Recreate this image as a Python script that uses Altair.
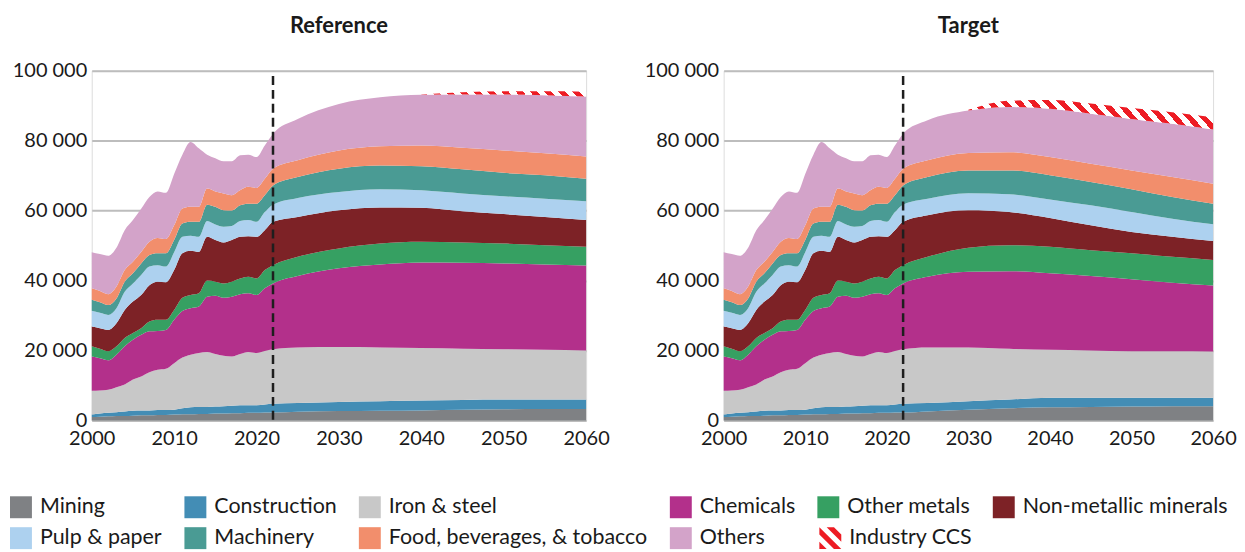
import altair as alt
import pandas as pd

# ---------------- data (values in thousands) ----------------
years_hist = list(range(2000, 2023))
years_proj = [2025, 2030, 2035, 2040, 2045, 2050, 2055, 2060]

sectors = ["Mining", "Construction", "Iron & steel", "Chemicals", "Other metals",
           "Non-metallic minerals", "Pulp & paper", "Machinery",
           "Food, beverages, & tobacco", "Others"]
ccs_name = "Industry CCS"

sector_colors = ["#7f8184", "#438db5", "#c8c8c8", "#b3308b", "#36a062",
                 "#7d2226", "#add1ef", "#4a9b94", "#f28e6c", "#d3a3c9"]
ccs_color = "#ed1c24"

hist = {
    "Mining": [1.0, 1.1, 1.2, 1.3, 1.3, 1.4, 1.5, 1.5, 1.6, 1.6, 1.7, 1.8, 1.8, 1.9, 1.9, 2.0, 2.0, 2.1, 2.1, 2.2, 2.2, 2.3, 2.3],
    "Construction": [0.7, 0.9, 1.0, 1.1, 1.3, 1.4, 1.4, 1.4, 1.4, 1.4, 1.4, 1.7, 2.0, 2.0, 2.0, 2.0, 2.1, 2.1, 2.3, 2.2, 2.2, 2.3, 2.5],
    "Iron & steel": [6.8, 6.6, 6.6, 7.1, 7.7, 8.9, 9.7, 10.9, 11.5, 11.8, 13.3, 14.5, 15.0, 15.4, 15.7, 15.0, 14.4, 14.1, 14.6, 15.2, 14.9, 15.3, 15.6],
    "Chemicals": [9.8, 9.2, 8.4, 9.3, 10.9, 11.4, 11.9, 11.7, 11.1, 11.1, 12.4, 13.3, 13.3, 13.3, 15.8, 16.7, 16.6, 17.1, 17.1, 16.8, 16.6, 17.9, 18.8],
    "Other metals": [2.9, 2.7, 2.6, 2.4, 2.4, 1.9, 1.9, 2.8, 3.2, 2.9, 2.8, 3.8, 3.8, 3.8, 4.6, 4.0, 4.1, 4.3, 4.5, 4.7, 4.7, 5.2, 5.2],
    "Non-metallic minerals": [5.7, 5.9, 6.1, 6.6, 8.0, 9.0, 9.5, 10.4, 10.9, 10.7, 11.4, 12.7, 12.6, 11.8, 12.5, 11.9, 11.7, 11.9, 11.9, 11.6, 11.9, 11.4, 12.4],
    "Pulp & paper": [4.5, 4.4, 4.3, 4.3, 5.2, 5.2, 5.7, 5.3, 4.7, 4.5, 5.1, 4.7, 4.3, 4.3, 4.5, 4.4, 4.5, 4.0, 4.5, 4.6, 4.3, 5.2, 4.9],
    "Machinery": [3.1, 3.0, 2.8, 2.8, 2.9, 2.9, 3.3, 3.3, 3.4, 3.8, 3.5, 3.8, 4.0, 4.3, 4.7, 5.1, 4.7, 4.4, 4.5, 4.7, 5.2, 4.8, 5.5],
    "Food, beverages, & tobacco": [3.3, 3.2, 3.1, 3.4, 3.3, 3.3, 3.3, 3.8, 4.4, 4.1, 4.2, 4.3, 4.3, 4.3, 4.6, 4.4, 4.8, 4.4, 4.3, 4.8, 4.5, 4.7, 4.8],
    "Others": [10.3, 10.6, 11.0, 11.1, 11.4, 11.9, 12.3, 12.8, 13.3, 13.2, 14.7, 15.4, 18.5, 16.7, 9.7, 9.5, 9.2, 9.7, 10.0, 9.2, 8.8, 9.5, 10.0],
}

ref_proj = {
    "Mining": [2.5, 2.7, 2.8, 2.9, 3.1, 3.2, 3.3, 3.3],
    "Construction": [2.5, 2.6, 2.7, 2.8, 2.8, 2.8, 2.7, 2.7],
    "Iron & steel": [15.9, 15.7, 15.4, 15.0, 14.6, 14.4, 14.2, 14.0],
    "Chemicals": [20.4, 22.5, 23.7, 24.5, 24.6, 24.5, 24.4, 24.3],
    "Other metals": [5.5, 5.7, 6.0, 5.9, 5.8, 5.7, 5.5, 5.4],
    "Non-metallic minerals": [11.4, 10.9, 10.3, 9.7, 8.9, 8.4, 8.1, 7.6],
    "Pulp & paper": [5.4, 5.2, 5.2, 5.0, 5.1, 5.1, 5.2, 5.4],
    "Machinery": [6.0, 6.7, 6.8, 6.9, 6.9, 6.7, 6.7, 6.4],
    "Food, beverages, & tobacco": [4.8, 5.2, 5.5, 5.9, 6.2, 6.4, 6.3, 6.4],
    "Others": [11.8, 13.3, 14.0, 14.5, 15.2, 16.0, 16.6, 17.1],
}
ref_ccs_years = [2040, 2045, 2050, 2055, 2060]
ref_ccs = [0.1, 0.6, 0.9, 1.1, 1.4]

tgt_proj = {
    "Mining": [2.6, 3.1, 3.5, 3.8, 3.9, 4.0, 4.1, 4.1],
    "Construction": [2.4, 2.4, 2.5, 2.7, 2.6, 2.5, 2.4, 2.4],
    "Iron & steel": [15.9, 15.4, 14.5, 13.7, 13.5, 13.3, 13.3, 13.2],
    "Chemicals": [20.2, 21.6, 22.2, 21.9, 21.3, 20.6, 19.6, 18.9],
    "Other metals": [5.7, 6.9, 7.4, 7.6, 7.4, 7.4, 7.4, 7.3],
    "Non-metallic minerals": [11.9, 10.7, 9.5, 8.2, 7.1, 6.1, 5.7, 5.4],
    "Pulp & paper": [4.7, 4.9, 5.1, 5.3, 5.7, 5.7, 5.2, 4.8],
    "Machinery": [6.2, 6.5, 6.8, 6.9, 6.7, 6.5, 6.2, 5.9],
    "Food, beverages, & tobacco": [4.8, 5.0, 5.2, 5.2, 5.2, 5.4, 5.7, 5.7],
    "Others": [11.4, 12.1, 12.9, 13.8, 14.3, 14.7, 15.2, 15.5],
}
tgt_ccs_years = [2030, 2035, 2040, 2045, 2050, 2055, 2060]
tgt_ccs = [0.2, 1.8, 2.5, 2.9, 3.1, 3.3, 3.5]

base_year = 2022
x_ticks = [2000, 2010, 2020, 2030, 2040, 2050, 2060]
y_ticks = [0, 20, 40, 60, 80, 100]
x_domain = [2000, 2060]
y_domain = [0, 100]

# ---------------- style ----------------
FONT = "Lato"
PLOT_H = 351
LEFT_W = 496
RIGHT_W = 491
STRIPE_PERIOD = 14.5


def hatch(w, h, m=0.9, period=STRIPE_PERIOD):
    """Diagonal red/white stripes as a linear gradient in bounding-box units."""
    k = (w + m * h) / (w ** 2 + (m * h) ** 2)
    n = max(1, round((w + m * h) / period))
    stops = []
    for i in range(n):
        a, b, c = i / n, (i + 0.5) / n, (i + 1) / n
        stops += [{"offset": a, "color": ccs_color}, {"offset": b, "color": ccs_color},
                  {"offset": b, "color": "#ffffff"}, {"offset": c, "color": "#ffffff"}]
    return {"gradient": "linear", "x1": 0, "y1": 1, "x2": k * w, "y2": 1 - k * m * h,
            "stops": stops}


def clip_poly(poly, a, b, c):
    """Keep the part of poly where a*x + b*y <= c."""
    out = []
    for i in range(len(poly)):
        p, q = poly[i], poly[(i + 1) % len(poly)]
        fp, fq = a * p[0] + b * p[1] - c, a * q[0] + b * q[1] - c
        if fp <= 0:
            out.append(p)
        if fp * fq < 0:
            t = fp / (fp - fq)
            out.append((p[0] + t * (q[0] - p[0]), p[1] + t * (q[1] - p[1])))
    return out


def stripe_symbol(n=3):
    """SVG path (in the -1..1 box) of diagonal stripes for the legend."""
    period = 4.0 / n
    parts = []
    for i in range(n):
        lo, hi = -2 + i * period, -2 + i * period + period / 2
        sq = [(-1, -1), (1, -1), (1, 1), (-1, 1)]
        poly = clip_poly(sq, 1, -1, hi)      # x - y <= hi
        poly = clip_poly(poly, -1, 1, -lo)   # x - y >= lo
        if len(poly) >= 3:
            parts.append("M" + "L".join("%.3f,%.3f" % pt for pt in poly) + "Z")
    return "".join(parts)


legend_common = dict(
    title=None, orient="none", direction="horizontal", symbolSize=484,
    symbolStrokeWidth=0, symbolOpacity=1, labelFontSize=21.5, labelFont=FONT,
    labelColor="#1a1a1a", labelLimit=400, labelOffset=8, padding=0,
)
color_legend = alt.Legend(legendX=-82, legendY=427, columns=6, symbolType="square",
                          columnPadding=22, rowPadding=9, **legend_common)
ccs_legend = alt.Legend(legendX=730, legendY=458, symbolFillColor=ccs_color,
                        **legend_common)

x_axis = alt.Axis(values=x_ticks, format="d", grid=False, domain=False, ticks=False,
                  labelFontSize=20, labelPadding=8, labelFlush=False, title=None,
                  labelFont=FONT, labelColor="#1a1a1a")
y_axis = alt.Axis(values=y_ticks, grid=True, gridColor="#bdbdbd", gridWidth=2,
                  domain=False, ticks=False, labelFontSize=20, labelPadding=5,
                  title=None, labelFont=FONT, labelColor="#1a1a1a",
                  labelExpr="replace(format(datum.value * 1000, ','), ',', ' ')")


def panel(title, proj, ccs_years, ccs_vals, width):
    rows = []
    for i, s in enumerate(sectors):
        for yr, v in zip(years_hist + years_proj, hist[s] + proj[s]):
            rows.append({"year": yr, "sector": s, "value": v, "order": i})
    for yr, v in zip(ccs_years, ccs_vals):
        rows.append({"year": yr, "sector": ccs_name, "value": v, "order": len(sectors)})
    df = pd.DataFrame(rows)

    # bounding box of the CCS band in pixels (sets the stripe angle)
    totals = df[df.sector != ccs_name].groupby("year")["value"].sum()
    bottoms = [totals[yr] for yr in ccs_years]
    tops = [b + c for b, c in zip(bottoms, ccs_vals)]
    sx = width / (x_domain[1] - x_domain[0])
    sy = PLOT_H / (y_domain[1] - y_domain[0])
    bw = (ccs_years[-1] - ccs_years[0]) * sx
    bh = (max(tops) - min(bottoms)) * sy

    base = alt.Chart(df)
    areas = base.transform_filter(alt.datum.sector != ccs_name).mark_area(
        interpolate="monotone").encode(
        x=alt.X("year:Q", scale=alt.Scale(domain=x_domain, nice=False), axis=x_axis),
        y=alt.Y("value:Q", stack="zero", scale=alt.Scale(domain=y_domain, nice=False),
                axis=y_axis),
        color=alt.Color("sector:N", scale=alt.Scale(domain=sectors, range=sector_colors),
                        legend=color_legend),
        order=alt.Order("order:Q", sort="ascending"),
    )
    stacked = base.transform_stack(
        stack="value", groupby=["year"], as_=["y0", "y1"],
        sort=[alt.SortField("order", order="ascending")],
    ).transform_filter(alt.datum.sector == ccs_name)
    ccs = stacked.mark_area(interpolate="monotone", fill=hatch(bw, bh)).encode(
        x=alt.X("year:Q"), y=alt.Y("y1:Q"), y2=alt.Y2("y0:Q"))
    ccs_key = stacked.mark_point(filled=True, opacity=0, color=ccs_color).encode(
        x=alt.X("year:Q"), y=alt.Y("y1:Q"),
        shape=alt.Shape("sector:N", scale=alt.Scale(domain=[ccs_name],
                                                    range=[stripe_symbol(3)]),
                        legend=ccs_legend))

    rule_df = pd.DataFrame({"year": [base_year], "top": [98.5], "bottom": [0]})
    rule = alt.Chart(rule_df).mark_rule(strokeDash=[9, 5], strokeWidth=2.5,
                                        color="#1e1e1e").encode(
        x="year:Q", y="top:Q", y2="bottom:Q")

    return alt.layer(areas, ccs, ccs_key, rule).properties(
        width=width, height=PLOT_H,
        title=alt.TitleParams(title, fontSize=22, fontWeight="bold", font=FONT,
                              color="#1a1a1a", anchor="middle", offset=23))


left = panel("Reference", ref_proj, ref_ccs_years, ref_ccs, LEFT_W)
right = panel("Target", tgt_proj, tgt_ccs_years, tgt_ccs, RIGHT_W)

chart = alt.hconcat(left, right, spacing=33).properties(
    padding={"left": 2, "top": 5, "right": 0, "bottom": 0}
).configure_view(stroke=None).configure(font=FONT)

chart.save("out.html", embed_options={"renderer": "svg", "actions": False})
